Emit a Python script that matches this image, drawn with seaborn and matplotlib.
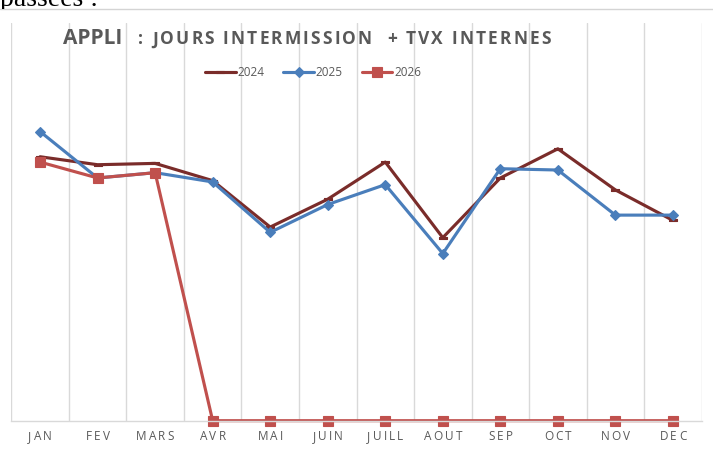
"""
plot.py - Courbe mensuelle des jours d'intermission + travaux internes (APPLI)
"""
import matplotlib
matplotlib.use('Agg')
import matplotlib.pyplot as plt
from matplotlib.lines import Line2D
from matplotlib.transforms import IdentityTransform, Bbox
import numpy as np
import pandas as pd
import seaborn as sns

# Données (échelle arbitraire, axe Y masqué)
months = ['JAN', 'FEV', 'MARS', 'AVR', 'MAI', 'JUIN', 'JUILL', 'AOUT', 'SEP', 'OCT', 'NOV', 'DEC']
years = ['2024', '2025', '2026']
jours_2024 = [19.9, 19.3, 19.4, 18.1, 14.6, 16.7, 19.5, 13.8, 18.3, 20.5, 17.4, 15.1]
jours_2025 = [21.8, 18.3, 18.7, 18.0, 14.2, 16.3, 17.8, 12.6, 19.0, 18.9, 15.5, 15.5]
jours_2026 = [19.5, 18.3, 18.7, 0, 0, 0, 0, 0, 0, 0, 0, 0]

colors = {'2024': '#7A2C2A', '2025': '#4A7EBB', '2026': '#C0504D'}
dash = [(-1, -0.3), (1, -0.3), (1, 0.3), (-1, 0.3), (-1, -0.3)]
markers = {'2024': (dash, 6), '2025': ('D', 5.5), '2026': ('s', 7.5)}

TXT = '#595959'
GRID = '#D9D9D9'
W, H = 713, 472

df = pd.DataFrame({
    'mois': months * 3,
    'pos': list(range(len(months))) * 3,
    'annee': np.repeat(years, len(months)),
    'jours': jours_2024 + jours_2025 + jours_2026,
})

sns.set_style('white')
plt.rcParams['font.family'] = ['Open Sans', 'DejaVu Sans']


def char_widths(fig, s, **kw):
    """Largeur d'avance de chaque caractère (en pixels)"""
    r = fig.canvas.get_renderer()

    def width(txt):
        t = fig.text(0, 0, txt, transform=IdentityTransform(), **kw)
        w = t.get_window_extent(r).width
        t.remove()
        return w

    ref = width('II')
    return [width('I' + c + 'I') - ref for c in s]


def spaced_text(fig, x, y, s, gap=0.0, width=None, ha='left', **kw):
    """Texte avec espacement des lettres (coordonnées pixels, origine en bas)"""
    ws = char_widths(fig, s, **kw)
    if width is not None:
        gap = (width - sum(ws)) / max(len(s) - 1, 1)
    total = sum(ws) + gap * (len(s) - 1)
    if ha == 'center':
        x -= total / 2
    for c, w in zip(s, ws):
        if c != ' ':
            fig.text(x, y, c, transform=IdentityTransform(), ha='left', va='baseline', **kw)
        x += w + gap


fig = plt.figure(figsize=(W / 100, H / 100), dpi=100)
ax = fig.add_axes([11.3 / W, 51.3 / H, 690.4 / W, 397.9 / H])

for y in years:
    m, ms = markers[y]
    sns.lineplot(data=df[df['annee'] == y], x='pos', y='jours', ax=ax, sort=False,
                 color=colors[y], lw=2.25, marker=m, markersize=ms,
                 markeredgecolor=colors[y], markeredgewidth=0.8,
                 clip_on=False, legend=False, label=y)
handles = list(ax.lines[:3])

ax.set_xlim(-0.5, len(months) - 0.5)
ax.set_ylim(0, 30)
ax.set_xlabel('')
ax.set_ylabel('')
ax.set_yticks([])
ax.set_xticks(np.arange(len(months)))
ax.set_xticklabels([])
ax.set_xticks(np.arange(-0.5, len(months)), minor=True)
ax.tick_params(axis='x', which='major', length=0)
ax.tick_params(axis='x', which='minor', length=19, width=1.0, color=GRID, direction='out')
ax.grid(True, which='minor', axis='x', color=GRID, lw=1.0)
ax.grid(False, which='major')
for side in ['top', 'left', 'right']:
    ax.spines[side].set_visible(False)
ax.spines['bottom'].set_color(GRID)
ax.spines['bottom'].set_linewidth(1.0)
ax.set_axisbelow(True)

# Libellés des mois (espacés)
for i, mois in enumerate(months):
    xc = ax.transData.transform((i, 0))[0]
    spaced_text(fig, xc, H - 440, mois, gap=2.2, ha='center', fontsize=8.5, color=TXT)

# Titre
fig.text(63.3, H - 44.3, 'APPLI', transform=IdentityTransform(), ha='left', va='baseline',
         fontsize=15, fontweight='bold', color=TXT)
spaced_text(fig, 138.3, H - 44.3, ': JOURS INTERMISSION  + TVX INTERNES', width=412.4,
            fontsize=12.5, fontweight='bold', color=TXT)

# Légende
fig.legend(handles, years, loc='center', bbox_to_anchor=(313 / W, 1 - 73 / H), ncol=3,
           frameon=False, fontsize=8.5, handlelength=2.6, handletextpad=0.15,
           columnspacing=1.6, labelcolor=TXT, borderpad=0)

# Ligne du haut + texte du document coupé
fig.add_artist(Line2D([0, 1], [1 - 9.3 / H] * 2, transform=fig.transFigure, color='#D4D4D4', lw=1))
t = fig.text(0, H - 6, 'passées :', transform=IdentityTransform(), ha='left', va='baseline',
             fontsize=20, family='Liberation Serif', color='black')
t.set_clip_box(Bbox([[0, H - 8.5], [W, H]]))
t.set_clip_on(True)

fig.savefig('out.png', dpi=100)
plt.close(fig)
